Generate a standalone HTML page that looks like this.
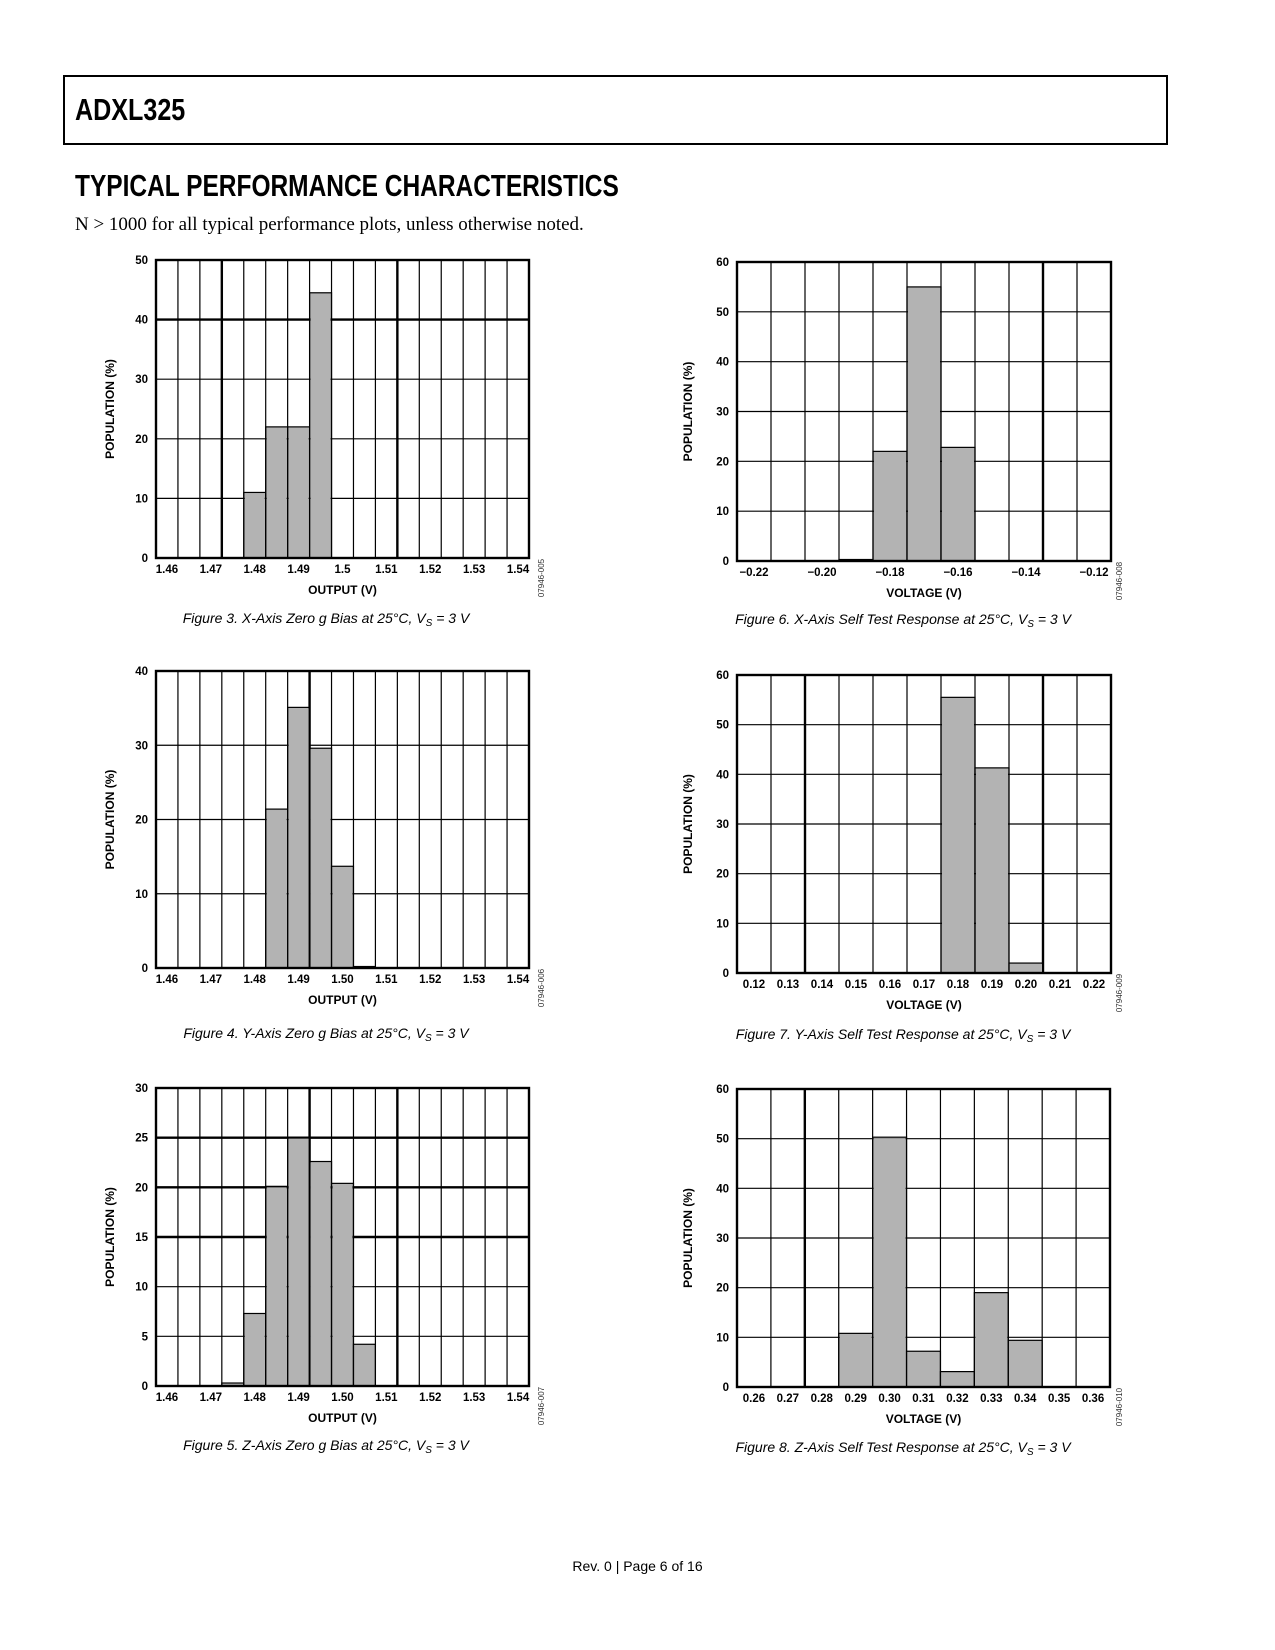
<!DOCTYPE html>
<html><head><meta charset="utf-8"><style>
html,body{margin:0;padding:0;background:#fff;}
body{width:1275px;height:1650px;position:relative;overflow:hidden;font-family:"Liberation Sans",sans-serif;}
.hdr{position:absolute;left:63px;top:75px;width:1101px;height:66px;border:2px solid #000;}
.t1{position:absolute;left:75px;top:92px;font:bold 31px "Liberation Sans Narrow","Liberation Sans",sans-serif;transform:scaleX(0.81);transform-origin:left top;}
.t2{position:absolute;left:75px;top:168px;font:bold 31px "Liberation Sans Narrow","Liberation Sans",sans-serif;transform:scaleX(0.79);transform-origin:left top;white-space:nowrap;}
.note{position:absolute;left:75px;top:214px;font:19px "Liberation Serif",serif;white-space:nowrap;}
.foot{position:absolute;left:0;width:1275px;top:1558px;text-align:center;font:14px "Liberation Sans",sans-serif;}
svg{position:absolute;left:0;top:0;}
</style></head><body>
<div class="hdr"></div>
<div class="t1">ADXL325</div>
<div class="t2">TYPICAL PERFORMANCE CHARACTERISTICS</div>
<div class="note">N &gt; 1000 for all typical performance plots, unless otherwise noted.</div>
<div class="foot">Rev. 0 | Page 6 of 16</div>
<svg id="page" width="1275" height="1650"></svg>
<script>
// Figure 3 data
const f3Labels = ["1.46","1.47","1.48","1.49","1.5","1.51","1.52","1.53","1.54"];
const f3Values = [0,0,0,0,11,22,22,44.5,0,0,0,0,0,0,0,0,0];
const f3Ticks = [0,10,20,30,40,50];
// Figure 4 data
const f4Labels = ["1.46","1.47","1.48","1.49","1.50","1.51","1.52","1.53","1.54"];
const f4Values = [0,0,0,0,0,21.4,35.1,29.6,13.7,0.2,0,0,0,0,0,0,0];
const f4Ticks = [0,10,20,30,40];
// Figure 5 data
const f5Labels = ["1.46","1.47","1.48","1.49","1.50","1.51","1.52","1.53","1.54"];
const f5Values = [0,0,0,0.3,7.3,20.1,25,22.6,20.4,4.2,0,0,0,0,0,0,0];
const f5Ticks = [0,5,10,15,20,25,30];
// Figure 6 data
const f6Labels = ["\u22120.22","","\u22120.20","","\u22120.18","","\u22120.16","","\u22120.14","","\u22120.12"];
const f6Values = [0,0,0,0.3,22,55,22.8,0,0,0,0];
const f6Ticks = [0,10,20,30,40,50,60];
// Figure 7 data
const f7Labels = ["0.12","0.13","0.14","0.15","0.16","0.17","0.18","0.19","0.20","0.21","0.22"];
const f7Values = [0,0,0,0,0,0,55.5,41.3,2,0,0];
const f7Ticks = [0,10,20,30,40,50,60];
// Figure 8 data
const f8Labels = ["0.26","0.27","0.28","0.29","0.30","0.31","0.32","0.33","0.34","0.35","0.36"];
const f8Values = [0,0,0,10.8,50.3,7.2,3.1,19,9.4,0,0];
const f8Ticks = [0,10,20,30,40,50,60];

const NS="http://www.w3.org/2000/svg";
const svg=document.getElementById('page');
function mk(tag,attrs,parent){const e=document.createElementNS(NS,tag);for(const k in attrs)e.setAttribute(k,attrs[k]);(parent||svg).appendChild(e);return e;}

function chart(cfg){
  const g=mk('g',{});
  
  
  const {L,R,T,B,values,ticks,labels,labelStep}=cfg;
  const n=values.length, ymax=ticks[ticks.length-1];
  const cw=(R-L)/n;
  const xs=i=>L+i*cw;
  const ys=v=>B-(v/ymax)*(B-T);
  values.forEach((v,i)=>{
    if(v<=0)return;
    const r=mk('rect',{x:xs(i),y:ys(v),width:cw,height:B-ys(v),fill:'#b3b3b3',stroke:'#000','stroke-width':1.2},g);
    
    
  });
  ticks.forEach(t=>{
    const thick=cfg.thickH.includes(t);
    const l=mk('line',{x1:L,x2:R,y1:ys(t),y2:ys(t),stroke:'#000','stroke-width':thick?2.4:1.2},g);
    
    
    const tx=mk('text',{x:L-8,y:ys(t)+4,'text-anchor':'end','font-size':11.5,'font-weight':'bold','font-family':'Liberation Sans, sans-serif'},g);
    tx.textContent=t;
    
    
  });
  for(let i=1;i<n;i++){
    const thick=cfg.thickV.includes(i);
    const l=mk('line',{x1:xs(i),x2:xs(i),y1:T,y2:B,stroke:'#000','stroke-width':thick?2.4:1.2},g);
    
    
  }
  values.forEach((v,i)=>{
    if(v<=0)return;
    mk('rect',{x:xs(i)+1,y:ys(v)+1,width:cw-2,height:Math.max(0,B-ys(v)-2),fill:'#b3b3b3'},g);
  });
  const fr=mk('rect',{x:L,y:T,width:R-L,height:B-T,fill:'none',stroke:'#000','stroke-width':2.4},g);
  
  
  labels.forEach((s,k)=>{
    if(!s)return;
    const i=k*labelStep;
    const tx=mk('text',{x:xs(i)+cw/2,y:B+15,'text-anchor':'middle','font-size':11.5,'font-weight':'bold','font-family':'Liberation Sans, sans-serif'},g);
    tx.textContent=s;
    
    
  });
  const xt=mk('text',{x:(L+R)/2,y:B+36,'text-anchor':'middle','font-size':12,'font-weight':'bold','font-family':'Liberation Sans, sans-serif'},g);
  xt.textContent=cfg.xTitle;
  
  
  const yx=cfg.yTitleX, yy=(T+B)/2;
  const yt=mk('text',{x:yx,y:yy,'text-anchor':'middle','font-size':12,'font-weight':'bold','font-family':'Liberation Sans, sans-serif',transform:`rotate(-90 ${yx} ${yy})`},g);
  yt.textContent='POPULATION (%)';
  
  
  const cx=cfg.codeX, cy=B+20;
  const ct=mk('text',{x:cx,y:cy,'text-anchor':'middle','font-size':8,'fill':'#333','font-family':'Liberation Sans, sans-serif',transform:`rotate(-90 ${cx} ${cy})`},g);
  ct.textContent=cfg.code;
  
  
  const cap=mk('text',{x:cfg.capX,y:cfg.capY,'text-anchor':'middle','font-size':14,'font-style':'italic','font-family':'Liberation Sans, sans-serif'},g);
  cap.innerHTML=cfg.caption;
  
  
}
const capTail=' at 25°C, V<tspan font-size="10" dy="3">S</tspan><tspan dy="-3"> = 3 V</tspan>';
chart({name:'figure-3-chart',L:156,R:529,T:260,B:558,values:f3Values,ticks:f3Ticks,labels:f3Labels,labelStep:2,thickH:[40],thickV:[3,11],xTitle:'OUTPUT (V)',yTitleX:114,codeX:544,code:'07946-005',capX:326,capY:623,caption:'Figure 3. X-Axis Zero g Bias'+capTail});
chart({name:'figure-4-chart',L:156,R:529,T:671,B:968,values:f4Values,ticks:f4Ticks,labels:f4Labels,labelStep:2,thickH:[],thickV:[7],xTitle:'OUTPUT (V)',yTitleX:114,codeX:544,code:'07946-006',capX:326,capY:1038,caption:'Figure 4. Y-Axis Zero g Bias'+capTail});
chart({name:'figure-5-chart',L:156,R:529,T:1088,B:1386,values:f5Values,ticks:f5Ticks,labels:f5Labels,labelStep:2,thickH:[15,20,25],thickV:[7,11],xTitle:'OUTPUT (V)',yTitleX:114,codeX:544,code:'07946-007',capX:326,capY:1450,caption:'Figure 5. Z-Axis Zero g Bias'+capTail});
chart({name:'figure-6-chart',L:737,R:1111,T:262,B:561,values:f6Values,ticks:f6Ticks,labels:f6Labels,labelStep:1,thickH:[],thickV:[9],xTitle:'VOLTAGE (V)',yTitleX:692,codeX:1122,code:'07946-008',capX:903,capY:624,caption:'Figure 6. X-Axis Self Test Response'+capTail});
chart({name:'figure-7-chart',L:737,R:1111,T:675,B:973,values:f7Values,ticks:f7Ticks,labels:f7Labels,labelStep:1,thickH:[],thickV:[2,9],xTitle:'VOLTAGE (V)',yTitleX:692,codeX:1122,code:'07946-009',capX:903,capY:1039,caption:'Figure 7. Y-Axis Self Test Response'+capTail});
chart({name:'figure-8-chart',L:737,R:1110,T:1089,B:1387,values:f8Values,ticks:f8Ticks,labels:f8Labels,labelStep:1,thickH:[],thickV:[2],xTitle:'VOLTAGE (V)',yTitleX:692,codeX:1122,code:'07946-010',capX:903,capY:1452,caption:'Figure 8. Z-Axis Self Test Response'+capTail});
</script>
</body></html>
